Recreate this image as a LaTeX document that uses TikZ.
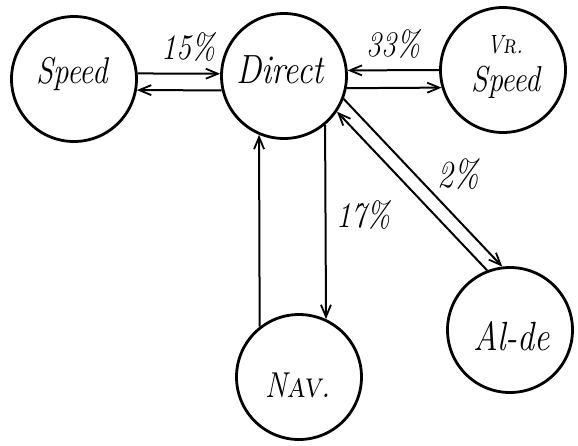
\documentclass[tikz,border=0pt]{standalone}
\usepackage{graphicx}
\usetikzlibrary{arrows.meta}
% tall hand-lettered text
\newcommand{\tallword}[2]{\scalebox{1}[1.2]{\fontsize{#1}{#1}\selectfont\itshape #2}}
\begin{document}
\begin{tikzpicture}[x=1pt,y=-1pt,
  state/.style={circle,draw,line width=2.8pt,minimum size=125pt,inner sep=0pt,align=center},
  flow/.style={line width=2pt,-{Straight Barb[length=12pt,width=10pt,line width=1.8pt]}},
  pct/.style={inner sep=0pt}]
\useasboundingbox (0,0) rectangle (578,445);
% states
\node[state] (speed) at (74,79) {};
\node[state] (direct) at (284,76) {};
\node[state] (vr) at (503,70) {};
\node[state] (nav) at (299,377) {};
\node[state] (alde) at (510,330) {};
% state names
\node (tspeed) at (72,74) {\tallword{31}{Speed}};
\node (tdirect) at (280,70) {\tallword{34}{Direct}};
\node (tvr) at (505,45) {\tallword{22}{V\textsc{r}.}};
\node (tvrspeed) at (506,82) {\tallword{30}{Speed}};
\node (tnav) at (298,385) {\tallword{30}{N\textsc{av}.}};
\node (talde) at (512,336) {\tallword{34}{Al-de}};
% Speed <-> Direct
\draw[flow] (speed.5) -- (direct.178);
\draw[flow] (direct.193) -- (speed.-10.2);
\node[pct] (p15) at (188,47) {\tallword{30}{15\%}};
% Direct <-> Vr. Speed
\draw[flow] (vr.180) -- (direct.5);
\draw[flow] (direct.-11.2) -- (vr.196.9);
\node[pct] (p33) at (393,44) {\tallword{30}{33\%}};
% Direct <-> Nav.
\draw[flow] (nav.128.2) -- (direct.247.6);
\draw[flow] (direct.310.6) -- (nav.65.6);
\node[pct] (p17) at (363,215) {\tallword{30}{17\%}};
% Direct <-> Al-de
\draw[flow] (direct.-21.5) -- (alde.97.4);
\draw[flow] (alde.111.6) -- (direct.-34.9);
\node[pct] (p2) at (458,174) {\tallword{32}{2\%}};
\end{tikzpicture}
\end{document}
